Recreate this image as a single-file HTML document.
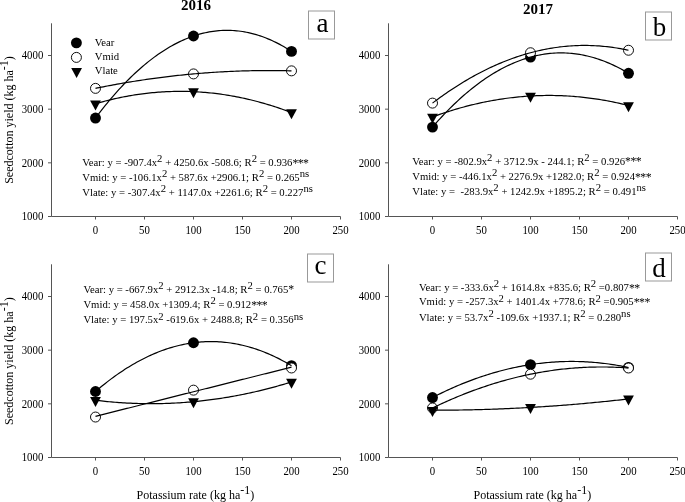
<!DOCTYPE html>
<html><head><meta charset="utf-8"><style>
html,body{margin:0;padding:0;background:#fff;width:685px;height:502px;overflow:hidden}
svg{display:block;filter:grayscale(1)}
text{font-family:"Liberation Serif",serif;fill:#000}
.t{font-size:10.8px}
.e{font-size:10.7px}
.g{font-size:10.7px}
.st{font-size:11.8px;letter-spacing:-0.55px}
.A{font-size:12px}
.T{font-size:15px;font-weight:bold}
.L{font-size:27px}
</style></head><body>
<svg width="685" height="502" viewBox="0 0 685 502">
<rect width="685" height="502" fill="#fff"/>
<path d="M51.5 23.3V216.5H340.5" fill="none" stroke="#555" stroke-width="1"/>
<path d="M48 216.5H51.5M48 162.83H51.5M48 109.17H51.5M48 55.5H51.5M95.5 216.5V219.5M144.5 216.5V219.5M193.5 216.5V219.5M242.5 216.5V219.5M291.5 216.5V219.5M340.5 216.5V219.5" fill="none" stroke="#555" stroke-width="1"/>
<text transform="translate(43.3,220.2) scale(1,1.13)" text-anchor="end" class="t">1000</text>
<text transform="translate(43.3,166.53) scale(1,1.13)" text-anchor="end" class="t">2000</text>
<text transform="translate(43.3,112.87) scale(1,1.13)" text-anchor="end" class="t">3000</text>
<text transform="translate(43.3,59.2) scale(1,1.13)" text-anchor="end" class="t">4000</text>
<text transform="translate(95.5,234.2) scale(1,1.13)" text-anchor="middle" class="t">0</text>
<text transform="translate(144.5,234.2) scale(1,1.13)" text-anchor="middle" class="t">50</text>
<text transform="translate(193.5,234.2) scale(1,1.13)" text-anchor="middle" class="t">100</text>
<text transform="translate(242.5,234.2) scale(1,1.13)" text-anchor="middle" class="t">150</text>
<text transform="translate(291.5,234.2) scale(1,1.13)" text-anchor="middle" class="t">200</text>
<text transform="translate(340.5,234.2) scale(1,1.13)" text-anchor="middle" class="t">250</text>
<circle cx="95.5" cy="118.04" r="5.45" fill="#000"/>
<circle cx="193.5" cy="36.02" r="5.45" fill="#000"/>
<circle cx="291.5" cy="51.39" r="5.45" fill="#000"/>
<circle cx="95.5" cy="88.37" r="5.0" fill="#fff" stroke="#000" stroke-width="0.95"/>
<circle cx="193.5" cy="73.91" r="5.0" fill="#fff" stroke="#000" stroke-width="0.95"/>
<circle cx="291.5" cy="70.85" r="5.0" fill="#fff" stroke="#000" stroke-width="0.95"/>
<path d="M90.1 100.4H100.9L95.5 110.4Z" fill="#000"/>
<path d="M188.1 88.34H198.9L193.5 98.34Z" fill="#000"/>
<path d="M286.1 109.27H296.9L291.5 119.27Z" fill="#000"/>
<polyline points="95.5,118.04 97.46,115.45 99.42,112.89 101.38,110.38 103.34,107.9 105.3,105.46 107.26,103.06 109.22,100.7 111.18,98.37 113.14,96.09 115.1,93.85 117.06,91.64 119.02,89.47 120.98,87.35 122.94,85.26 124.9,83.21 126.86,81.2 128.82,79.23 130.78,77.29 132.74,75.4 134.7,73.55 136.66,71.73 138.62,69.95 140.58,68.22 142.54,66.52 144.5,64.86 146.46,63.24 148.42,61.65 150.38,60.11 152.34,58.61 154.3,57.14 156.26,55.72 158.22,54.33 160.18,52.98 162.14,51.67 164.1,50.4 166.06,49.17 168.02,47.98 169.98,46.82 171.94,45.71 173.9,44.63 175.86,43.6 177.82,42.6 179.78,41.64 181.74,40.72 183.7,39.84 185.66,39 187.62,38.19 189.58,37.43 191.54,36.71 193.5,36.02 195.46,35.37 197.42,34.76 199.38,34.19 201.34,33.66 203.3,33.17 205.26,32.72 207.22,32.31 209.18,31.93 211.14,31.6 213.1,31.3 215.06,31.04 217.02,30.83 218.98,30.65 220.94,30.51 222.9,30.4 224.86,30.34 226.82,30.32 228.78,30.33 230.74,30.39 232.7,30.48 234.66,30.61 236.62,30.78 238.58,30.99 240.54,31.24 242.5,31.53 244.46,31.86 246.42,32.22 248.38,32.63 250.34,33.07 252.3,33.55 254.26,34.08 256.22,34.64 258.18,35.24 260.14,35.87 262.1,36.55 264.06,37.27 266.02,38.02 267.98,38.82 269.94,39.65 271.9,40.52 273.86,41.43 275.82,42.39 277.78,43.37 279.74,44.4 281.7,45.47 283.66,46.58 285.62,47.72 287.58,48.9 289.54,50.13 291.5,51.39" fill="none" stroke="#000" stroke-width="1.2"/>
<polyline points="95.5,88.37 97.46,87.96 99.42,87.57 101.38,87.18 103.34,86.79 105.3,86.41 107.26,86.03 109.22,85.66 111.18,85.29 113.14,84.92 115.1,84.56 117.06,84.21 119.02,83.86 120.98,83.51 122.94,83.17 124.9,82.83 126.86,82.5 128.82,82.17 130.78,81.85 132.74,81.53 134.7,81.22 136.66,80.91 138.62,80.6 140.58,80.3 142.54,80.01 144.5,79.72 146.46,79.43 148.42,79.15 150.38,78.87 152.34,78.6 154.3,78.33 156.26,78.06 158.22,77.8 160.18,77.55 162.14,77.3 164.1,77.05 166.06,76.81 168.02,76.58 169.98,76.34 171.94,76.12 173.9,75.89 175.86,75.67 177.82,75.46 179.78,75.25 181.74,75.05 183.7,74.85 185.66,74.65 187.62,74.46 189.58,74.27 191.54,74.09 193.5,73.91 195.46,73.74 197.42,73.57 199.38,73.41 201.34,73.25 203.3,73.09 205.26,72.94 207.22,72.8 209.18,72.66 211.14,72.52 213.1,72.39 215.06,72.26 217.02,72.14 218.98,72.02 220.94,71.91 222.9,71.8 224.86,71.69 226.82,71.59 228.78,71.5 230.74,71.41 232.7,71.32 234.66,71.24 236.62,71.16 238.58,71.09 240.54,71.02 242.5,70.96 244.46,70.9 246.42,70.84 248.38,70.79 250.34,70.75 252.3,70.71 254.26,70.67 256.22,70.64 258.18,70.61 260.14,70.59 262.1,70.57 264.06,70.56 266.02,70.55 267.98,70.55 269.94,70.55 271.9,70.55 273.86,70.56 275.82,70.57 277.78,70.59 279.74,70.62 281.7,70.64 283.66,70.67 285.62,70.71 287.58,70.75 289.54,70.8 291.5,70.85" fill="none" stroke="#000" stroke-width="1.2"/>
<polyline points="95.5,103.74 97.46,103.17 99.42,102.62 101.38,102.08 103.34,101.56 105.3,101.04 107.26,100.55 109.22,100.06 111.18,99.59 113.14,99.13 115.1,98.68 117.06,98.25 119.02,97.83 120.98,97.42 122.94,97.03 124.9,96.65 126.86,96.29 128.82,95.93 130.78,95.59 132.74,95.26 134.7,94.95 136.66,94.65 138.62,94.36 140.58,94.09 142.54,93.83 144.5,93.58 146.46,93.34 148.42,93.12 150.38,92.91 152.34,92.72 154.3,92.54 156.26,92.37 158.22,92.21 160.18,92.07 162.14,91.94 164.1,91.83 166.06,91.72 168.02,91.63 169.98,91.56 171.94,91.49 173.9,91.44 175.86,91.41 177.82,91.38 179.78,91.37 181.74,91.38 183.7,91.39 185.66,91.42 187.62,91.46 189.58,91.52 191.54,91.59 193.5,91.67 195.46,91.77 197.42,91.88 199.38,92 201.34,92.13 203.3,92.28 205.26,92.44 207.22,92.62 209.18,92.8 211.14,93 213.1,93.22 215.06,93.45 217.02,93.69 218.98,93.94 220.94,94.21 222.9,94.49 224.86,94.78 226.82,95.09 228.78,95.41 230.74,95.74 232.7,96.08 234.66,96.44 236.62,96.82 238.58,97.2 240.54,97.6 242.5,98.01 244.46,98.44 246.42,98.88 248.38,99.33 250.34,99.79 252.3,100.27 254.26,100.76 256.22,101.27 258.18,101.78 260.14,102.31 262.1,102.86 264.06,103.42 266.02,103.99 267.98,104.57 269.94,105.17 271.9,105.78 273.86,106.4 275.82,107.04 277.78,107.68 279.74,108.35 281.7,109.02 283.66,109.71 285.62,110.42 287.58,111.13 289.54,111.86 291.5,112.6" fill="none" stroke="#000" stroke-width="1.2"/>
<text transform="translate(82.2,165.8) scale(1,1.06)" class="e">Vear:&#160;y&#160;=&#160;-907.4x<tspan dy="-3.5">2</tspan><tspan dy="3.5">&#160;+&#160;4250.6x&#160;-508.6;&#160;R</tspan><tspan dy="-3.5">2</tspan><tspan dy="3.5">&#160;=&#160;0.936<tspan class="st" dy="0.7">***</tspan></tspan></text>
<text transform="translate(82.2,181) scale(1,1.06)" class="e">Vmid:&#160;y&#160;=&#160;-106.1x<tspan dy="-3.5">2</tspan><tspan dy="3.5">&#160;+&#160;587.6x&#160;+2906.1;&#160;R</tspan><tspan dy="-3.5">2</tspan><tspan dy="3.5">&#160;=&#160;0.265</tspan><tspan dy="-3.5">ns</tspan></text>
<text transform="translate(82.2,195.5) scale(1,1.06)" class="e">Vlate:&#160;y&#160;=&#160;-307.4x<tspan dy="-3.5">2</tspan><tspan dy="3.5">&#160;+&#160;1147.0x&#160;+2261.6;&#160;R</tspan><tspan dy="-3.5">2</tspan><tspan dy="3.5">&#160;=&#160;0.227</tspan><tspan dy="-3.5">ns</tspan></text>
<rect x="308.5" y="11" width="26" height="28" fill="#fff" stroke="#999" stroke-width="1"/>
<text x="322.45" y="31.64" text-anchor="middle" class="L">a</text>
<path d="M388.5 23.3V216.5H677.5" fill="none" stroke="#555" stroke-width="1"/>
<path d="M385 216.5H388.5M385 162.83H388.5M385 109.17H388.5M385 55.5H388.5M432.5 216.5V219.5M481.5 216.5V219.5M530.5 216.5V219.5M579.5 216.5V219.5M628.5 216.5V219.5M677.5 216.5V219.5" fill="none" stroke="#555" stroke-width="1"/>
<text transform="translate(380.3,220.2) scale(1,1.13)" text-anchor="end" class="t">1000</text>
<text transform="translate(380.3,166.53) scale(1,1.13)" text-anchor="end" class="t">2000</text>
<text transform="translate(380.3,112.87) scale(1,1.13)" text-anchor="end" class="t">3000</text>
<text transform="translate(380.3,59.2) scale(1,1.13)" text-anchor="end" class="t">4000</text>
<text transform="translate(432.5,234.2) scale(1,1.13)" text-anchor="middle" class="t">0</text>
<text transform="translate(481.5,234.2) scale(1,1.13)" text-anchor="middle" class="t">50</text>
<text transform="translate(530.5,234.2) scale(1,1.13)" text-anchor="middle" class="t">100</text>
<text transform="translate(579.5,234.2) scale(1,1.13)" text-anchor="middle" class="t">150</text>
<text transform="translate(628.5,234.2) scale(1,1.13)" text-anchor="middle" class="t">200</text>
<text transform="translate(677.5,234.2) scale(1,1.13)" text-anchor="middle" class="t">250</text>
<circle cx="432.5" cy="127.1" r="5.45" fill="#000"/>
<circle cx="530.5" cy="57.1" r="5.45" fill="#000"/>
<circle cx="628.5" cy="73.29" r="5.45" fill="#000"/>
<circle cx="432.5" cy="103.11" r="5.0" fill="#fff" stroke="#000" stroke-width="0.95"/>
<circle cx="530.5" cy="52.74" r="5.0" fill="#fff" stroke="#000" stroke-width="0.95"/>
<circle cx="628.5" cy="50.25" r="5.0" fill="#fff" stroke="#000" stroke-width="0.95"/>
<path d="M427.1 113.66H437.9L432.5 123.66Z" fill="#000"/>
<path d="M525.1 92.66H535.9L530.5 102.66Z" fill="#000"/>
<path d="M623.1 102.14H633.9L628.5 112.14Z" fill="#000"/>
<polyline points="432.5,127.1 434.46,124.85 436.42,122.64 438.38,120.47 440.34,118.33 442.3,116.22 444.26,114.15 446.22,112.11 448.18,110.11 450.14,108.14 452.1,106.2 454.06,104.3 456.02,102.44 457.98,100.61 459.94,98.81 461.9,97.05 463.86,95.32 465.82,93.63 467.78,91.97 469.74,90.35 471.7,88.76 473.66,87.2 475.62,85.68 477.58,84.2 479.54,82.75 481.5,81.33 483.46,79.95 485.42,78.6 487.38,77.28 489.34,76 491.3,74.76 493.26,73.55 495.22,72.37 497.18,71.23 499.14,70.13 501.1,69.05 503.06,68.02 505.02,67.01 506.98,66.04 508.94,65.11 510.9,64.21 512.86,63.34 514.82,62.51 516.78,61.72 518.74,60.95 520.7,60.23 522.66,59.53 524.62,58.87 526.58,58.25 528.54,57.66 530.5,57.1 532.46,56.58 534.42,56.1 536.38,55.65 538.34,55.23 540.3,54.85 542.26,54.5 544.22,54.18 546.18,53.9 548.14,53.66 550.1,53.45 552.06,53.27 554.02,53.13 555.98,53.02 557.94,52.95 559.9,52.91 561.86,52.91 563.82,52.94 565.78,53 567.74,53.1 569.7,53.24 571.66,53.41 573.62,53.61 575.58,53.85 577.54,54.12 579.5,54.43 581.46,54.77 583.42,55.14 585.38,55.55 587.34,56 589.3,56.47 591.26,56.99 593.22,57.54 595.18,58.12 597.14,58.73 599.1,59.39 601.06,60.07 603.02,60.79 604.98,61.55 606.94,62.34 608.9,63.16 610.86,64.02 612.82,64.91 614.78,65.84 616.74,66.8 618.7,67.79 620.66,68.82 622.62,69.89 624.58,70.99 626.54,72.12 628.5,73.29" fill="none" stroke="#000" stroke-width="1.2"/>
<polyline points="432.5,103.11 434.46,101.64 436.42,100.18 438.38,98.74 440.34,97.32 442.3,95.92 444.26,94.54 446.22,93.18 448.18,91.84 450.14,90.51 452.1,89.21 454.06,87.92 456.02,86.66 457.98,85.41 459.94,84.18 461.9,82.97 463.86,81.78 465.82,80.61 467.78,79.46 469.74,78.33 471.7,77.22 473.66,76.13 475.62,75.05 477.58,74 479.54,72.96 481.5,71.94 483.46,70.94 485.42,69.97 487.38,69.01 489.34,68.07 491.3,67.14 493.26,66.24 495.22,65.36 497.18,64.5 499.14,63.65 501.1,62.83 503.06,62.02 505.02,61.23 506.98,60.46 508.94,59.72 510.9,58.99 512.86,58.27 514.82,57.58 516.78,56.91 518.74,56.26 520.7,55.62 522.66,55.01 524.62,54.41 526.58,53.84 528.54,53.28 530.5,52.74 532.46,52.22 534.42,51.72 536.38,51.24 538.34,50.78 540.3,50.34 542.26,49.91 544.22,49.51 546.18,49.13 548.14,48.76 550.1,48.41 552.06,48.09 554.02,47.78 555.98,47.49 557.94,47.22 559.9,46.97 561.86,46.74 563.82,46.52 565.78,46.33 567.74,46.15 569.7,46 571.66,45.86 573.62,45.75 575.58,45.65 577.54,45.57 579.5,45.51 581.46,45.47 583.42,45.45 585.38,45.45 587.34,45.47 589.3,45.5 591.26,45.56 593.22,45.63 595.18,45.73 597.14,45.84 599.1,45.97 601.06,46.12 603.02,46.29 604.98,46.48 606.94,46.69 608.9,46.92 610.86,47.17 612.82,47.43 614.78,47.72 616.74,48.02 618.7,48.35 620.66,48.69 622.62,49.05 624.58,49.43 626.54,49.83 628.5,50.25" fill="none" stroke="#000" stroke-width="1.2"/>
<polyline points="432.5,116.99 434.46,116.27 436.42,115.57 438.38,114.87 440.34,114.19 442.3,113.52 444.26,112.86 446.22,112.22 448.18,111.58 450.14,110.96 452.1,110.35 454.06,109.76 456.02,109.17 457.98,108.6 459.94,108.04 461.9,107.49 463.86,106.96 465.82,106.43 467.78,105.92 469.74,105.42 471.7,104.94 473.66,104.46 475.62,104 477.58,103.55 479.54,103.11 481.5,102.69 483.46,102.27 485.42,101.87 487.38,101.48 489.34,101.1 491.3,100.74 493.26,100.39 495.22,100.04 497.18,99.72 499.14,99.4 501.1,99.1 503.06,98.8 505.02,98.52 506.98,98.26 508.94,98 510.9,97.76 512.86,97.53 514.82,97.31 516.78,97.1 518.74,96.91 520.7,96.73 522.66,96.56 524.62,96.4 526.58,96.25 528.54,96.12 530.5,96 532.46,95.89 534.42,95.79 536.38,95.71 538.34,95.63 540.3,95.57 542.26,95.53 544.22,95.49 546.18,95.47 548.14,95.45 550.1,95.45 552.06,95.47 554.02,95.49 555.98,95.53 557.94,95.58 559.9,95.64 561.86,95.71 563.82,95.8 565.78,95.9 567.74,96.01 569.7,96.13 571.66,96.27 573.62,96.41 575.58,96.57 577.54,96.74 579.5,96.93 581.46,97.12 583.42,97.33 585.38,97.55 587.34,97.78 589.3,98.03 591.26,98.28 593.22,98.55 595.18,98.83 597.14,99.13 599.1,99.43 601.06,99.75 603.02,100.08 604.98,100.42 606.94,100.77 608.9,101.14 610.86,101.52 612.82,101.91 614.78,102.31 616.74,102.73 618.7,103.16 620.66,103.59 622.62,104.05 624.58,104.51 626.54,104.99 628.5,105.47" fill="none" stroke="#000" stroke-width="1.2"/>
<text transform="translate(412.2,164.6) scale(1,1.06)" class="e">Vear:&#160;y&#160;=&#160;-802.9x<tspan dy="-3.5">2</tspan><tspan dy="3.5">&#160;+&#160;3712.9x&#160;-&#160;244.1;&#160;R</tspan><tspan dy="-3.5">2</tspan><tspan dy="3.5">&#160;=&#160;0.926<tspan class="st" dy="0.7">***</tspan></tspan></text>
<text transform="translate(412.2,179.9) scale(1,1.06)" class="e">Vmid:&#160;y&#160;=&#160;-446.1x<tspan dy="-3.5">2</tspan><tspan dy="3.5">&#160;+&#160;2276.9x&#160;+1282.0;&#160;R</tspan><tspan dy="-3.5">2</tspan><tspan dy="3.5">&#160;=&#160;0.924<tspan class="st" dy="0.7">***</tspan></tspan></text>
<text transform="translate(412.2,194.5) scale(1,1.06)" class="e">Vlate:&#160;y&#160;=&#160;&#160;-283.9x<tspan dy="-3.5">2</tspan><tspan dy="3.5">&#160;+&#160;1242.9x&#160;+1895.2;&#160;R</tspan><tspan dy="-3.5">2</tspan><tspan dy="3.5">&#160;=&#160;0.491</tspan><tspan dy="-3.5">ns</tspan></text>
<rect x="645.5" y="12" width="26" height="28" fill="#fff" stroke="#999" stroke-width="1"/>
<text x="659.5" y="36.2" text-anchor="middle" class="L">b</text>
<path d="M51.5 264.3V457.5H340.5" fill="none" stroke="#555" stroke-width="1"/>
<path d="M48 457.5H51.5M48 403.83H51.5M48 350.17H51.5M48 296.5H51.5M95.5 457.5V460.5M144.5 457.5V460.5M193.5 457.5V460.5M242.5 457.5V460.5M291.5 457.5V460.5M340.5 457.5V460.5" fill="none" stroke="#555" stroke-width="1"/>
<text transform="translate(43.3,461.2) scale(1,1.13)" text-anchor="end" class="t">1000</text>
<text transform="translate(43.3,407.53) scale(1,1.13)" text-anchor="end" class="t">2000</text>
<text transform="translate(43.3,353.87) scale(1,1.13)" text-anchor="end" class="t">3000</text>
<text transform="translate(43.3,300.2) scale(1,1.13)" text-anchor="end" class="t">4000</text>
<text transform="translate(95.5,475.2) scale(1,1.13)" text-anchor="middle" class="t">0</text>
<text transform="translate(144.5,475.2) scale(1,1.13)" text-anchor="middle" class="t">50</text>
<text transform="translate(193.5,475.2) scale(1,1.13)" text-anchor="middle" class="t">100</text>
<text transform="translate(242.5,475.2) scale(1,1.13)" text-anchor="middle" class="t">150</text>
<text transform="translate(291.5,475.2) scale(1,1.13)" text-anchor="middle" class="t">200</text>
<text transform="translate(340.5,475.2) scale(1,1.13)" text-anchor="middle" class="t">250</text>
<circle cx="95.5" cy="391.51" r="5.45" fill="#000"/>
<circle cx="193.5" cy="342.75" r="5.45" fill="#000"/>
<circle cx="291.5" cy="365.68" r="5.45" fill="#000"/>
<circle cx="95.5" cy="417.04" r="5.0" fill="#fff" stroke="#000" stroke-width="0.95"/>
<circle cx="193.5" cy="390.15" r="5.0" fill="#fff" stroke="#000" stroke-width="0.95"/>
<circle cx="291.5" cy="367.98" r="5.0" fill="#fff" stroke="#000" stroke-width="0.95"/>
<path d="M90.1 396.92H100.9L95.5 406.92Z" fill="#000"/>
<path d="M188.1 398.37H198.9L193.5 408.37Z" fill="#000"/>
<path d="M286.1 378.63H296.9L291.5 388.63Z" fill="#000"/>
<polyline points="95.5,391.51 97.46,389.83 99.42,388.18 101.38,386.56 103.34,384.97 105.3,383.41 107.26,381.87 109.22,380.37 111.18,378.89 113.14,377.44 115.1,376.02 117.06,374.63 119.02,373.27 120.98,371.94 122.94,370.63 124.9,369.36 126.86,368.11 128.82,366.89 130.78,365.7 132.74,364.54 134.7,363.4 136.66,362.3 138.62,361.22 140.58,360.18 142.54,359.16 144.5,358.17 146.46,357.21 148.42,356.28 150.38,355.37 152.34,354.5 154.3,353.65 156.26,352.83 158.22,352.05 160.18,351.29 162.14,350.55 164.1,349.85 166.06,349.18 168.02,348.53 169.98,347.91 171.94,347.33 173.9,346.77 175.86,346.24 177.82,345.73 179.78,345.26 181.74,344.82 183.7,344.4 185.66,344.01 187.62,343.65 189.58,343.32 191.54,343.02 193.5,342.75 195.46,342.51 197.42,342.29 199.38,342.1 201.34,341.95 203.3,341.82 205.26,341.72 207.22,341.64 209.18,341.6 211.14,341.59 213.1,341.6 215.06,341.64 217.02,341.71 218.98,341.81 220.94,341.94 222.9,342.1 224.86,342.29 226.82,342.5 228.78,342.74 230.74,343.02 232.7,343.32 234.66,343.65 236.62,344.01 238.58,344.39 240.54,344.81 242.5,345.25 244.46,345.73 246.42,346.23 248.38,346.76 250.34,347.32 252.3,347.9 254.26,348.52 256.22,349.16 258.18,349.84 260.14,350.54 262.1,351.27 264.06,352.03 266.02,352.82 267.98,353.64 269.94,354.48 271.9,355.36 273.86,356.26 275.82,357.19 277.78,358.15 279.74,359.14 281.7,360.16 283.66,361.2 285.62,362.28 287.58,363.38 289.54,364.52 291.5,365.68" fill="none" stroke="#000" stroke-width="1.2"/>
<polyline points="95.5,416.32 97.46,415.82 99.42,415.33 101.38,414.84 103.34,414.35 105.3,413.86 107.26,413.37 109.22,412.88 111.18,412.38 113.14,411.89 115.1,411.4 117.06,410.91 119.02,410.42 120.98,409.93 122.94,409.43 124.9,408.94 126.86,408.45 128.82,407.96 130.78,407.47 132.74,406.98 134.7,406.48 136.66,405.99 138.62,405.5 140.58,405.01 142.54,404.52 144.5,404.03 146.46,403.53 148.42,403.04 150.38,402.55 152.34,402.06 154.3,401.57 156.26,401.08 158.22,400.59 160.18,400.09 162.14,399.6 164.1,399.11 166.06,398.62 168.02,398.13 169.98,397.64 171.94,397.14 173.9,396.65 175.86,396.16 177.82,395.67 179.78,395.18 181.74,394.69 183.7,394.19 185.66,393.7 187.62,393.21 189.58,392.72 191.54,392.23 193.5,391.74 195.46,391.25 197.42,390.75 199.38,390.26 201.34,389.77 203.3,389.28 205.26,388.79 207.22,388.3 209.18,387.8 211.14,387.31 213.1,386.82 215.06,386.33 217.02,385.84 218.98,385.35 220.94,384.85 222.9,384.36 224.86,383.87 226.82,383.38 228.78,382.89 230.74,382.4 232.7,381.91 234.66,381.41 236.62,380.92 238.58,380.43 240.54,379.94 242.5,379.45 244.46,378.96 246.42,378.46 248.38,377.97 250.34,377.48 252.3,376.99 254.26,376.5 256.22,376.01 258.18,375.51 260.14,375.02 262.1,374.53 264.06,374.04 266.02,373.55 267.98,373.06 269.94,372.56 271.9,372.07 273.86,371.58 275.82,371.09 277.78,370.6 279.74,370.11 281.7,369.62 283.66,369.12 285.62,368.63 287.58,368.14 289.54,367.65 291.5,367.16" fill="none" stroke="#000" stroke-width="1.2"/>
<polyline points="95.5,400.25 97.46,400.49 99.42,400.72 101.38,400.94 103.34,401.15 105.3,401.35 107.26,401.55 109.22,401.73 111.18,401.91 113.14,402.08 115.1,402.24 117.06,402.39 119.02,402.54 120.98,402.67 122.94,402.8 124.9,402.92 126.86,403.03 128.82,403.13 130.78,403.22 132.74,403.3 134.7,403.38 136.66,403.45 138.62,403.51 140.58,403.56 142.54,403.6 144.5,403.63 146.46,403.66 148.42,403.67 150.38,403.68 152.34,403.68 154.3,403.67 156.26,403.65 158.22,403.63 160.18,403.59 162.14,403.55 164.1,403.5 166.06,403.44 168.02,403.37 169.98,403.29 171.94,403.21 173.9,403.11 175.86,403.01 177.82,402.9 179.78,402.78 181.74,402.65 183.7,402.52 185.66,402.37 187.62,402.22 189.58,402.06 191.54,401.89 193.5,401.71 195.46,401.52 197.42,401.33 199.38,401.12 201.34,400.91 203.3,400.69 205.26,400.46 207.22,400.22 209.18,399.97 211.14,399.72 213.1,399.46 215.06,399.18 217.02,398.9 218.98,398.61 220.94,398.32 222.9,398.01 224.86,397.7 226.82,397.37 228.78,397.04 230.74,396.7 232.7,396.35 234.66,396 236.62,395.63 238.58,395.26 240.54,394.88 242.5,394.49 244.46,394.09 246.42,393.68 248.38,393.26 250.34,392.84 252.3,392.41 254.26,391.96 256.22,391.51 258.18,391.06 260.14,390.59 262.1,390.11 264.06,389.63 266.02,389.14 267.98,388.64 269.94,388.13 271.9,387.61 273.86,387.08 275.82,386.55 277.78,386 279.74,385.45 281.7,384.89 283.66,384.32 285.62,383.75 287.58,383.16 289.54,382.57 291.5,381.96" fill="none" stroke="#000" stroke-width="1.2"/>
<text transform="translate(83.4,292.7) scale(1,1.06)" class="e">Vear:&#160;y&#160;=&#160;-667.9x<tspan dy="-3.5">2</tspan><tspan dy="3.5">&#160;+&#160;2912.3x&#160;-14.8;&#160;R</tspan><tspan dy="-3.5">2</tspan><tspan dy="3.5">&#160;=&#160;0.765<tspan class="st" dy="0.7">*</tspan></tspan></text>
<text transform="translate(83.4,307.9) scale(1,1.06)" class="e">Vmid:&#160;y&#160;=&#160;458.0x&#160;+1309.4;&#160;R<tspan dy="-3.5">2</tspan><tspan dy="3.5">&#160;=&#160;0.912<tspan class="st" dy="0.7">***</tspan></tspan></text>
<text transform="translate(83.4,323.4) scale(1,1.06)" class="e">Vlate:&#160;y&#160;=&#160;197.5x<tspan dy="-3.5">2</tspan><tspan dy="3.5">&#160;-619.6x&#160;+&#160;2488.8;&#160;R</tspan><tspan dy="-3.5">2</tspan><tspan dy="3.5">&#160;=&#160;0.356</tspan><tspan dy="-3.5">ns</tspan></text>
<rect x="307.5" y="254" width="26" height="28" fill="#fff" stroke="#999" stroke-width="1"/>
<text x="320.5" y="274" text-anchor="middle" class="L">c</text>
<path d="M388.5 264.3V457.5H677.5" fill="none" stroke="#555" stroke-width="1"/>
<path d="M385 457.5H388.5M385 403.83H388.5M385 350.17H388.5M385 296.5H388.5M432.5 457.5V460.5M481.5 457.5V460.5M530.5 457.5V460.5M579.5 457.5V460.5M628.5 457.5V460.5M677.5 457.5V460.5" fill="none" stroke="#555" stroke-width="1"/>
<text transform="translate(380.3,461.2) scale(1,1.13)" text-anchor="end" class="t">1000</text>
<text transform="translate(380.3,407.53) scale(1,1.13)" text-anchor="end" class="t">2000</text>
<text transform="translate(380.3,353.87) scale(1,1.13)" text-anchor="end" class="t">3000</text>
<text transform="translate(380.3,300.2) scale(1,1.13)" text-anchor="end" class="t">4000</text>
<text transform="translate(432.5,475.2) scale(1,1.13)" text-anchor="middle" class="t">0</text>
<text transform="translate(481.5,475.2) scale(1,1.13)" text-anchor="middle" class="t">50</text>
<text transform="translate(530.5,475.2) scale(1,1.13)" text-anchor="middle" class="t">100</text>
<text transform="translate(579.5,475.2) scale(1,1.13)" text-anchor="middle" class="t">150</text>
<text transform="translate(628.5,475.2) scale(1,1.13)" text-anchor="middle" class="t">200</text>
<text transform="translate(677.5,475.2) scale(1,1.13)" text-anchor="middle" class="t">250</text>
<circle cx="432.5" cy="397.57" r="5.45" fill="#000"/>
<circle cx="530.5" cy="364.61" r="5.45" fill="#000"/>
<circle cx="628.5" cy="367.47" r="5.45" fill="#000"/>
<circle cx="432.5" cy="407.98" r="5.0" fill="#fff" stroke="#000" stroke-width="0.95"/>
<circle cx="530.5" cy="374.2" r="5.0" fill="#fff" stroke="#000" stroke-width="0.95"/>
<circle cx="628.5" cy="368.03" r="5.0" fill="#fff" stroke="#000" stroke-width="0.95"/>
<path d="M427.1 406.88H437.9L432.5 416.88Z" fill="#000"/>
<path d="M525.1 404.11H535.9L530.5 414.11Z" fill="#000"/>
<path d="M623.1 395.58H633.9L628.5 405.58Z" fill="#000"/>
<polyline points="432.5,397.57 434.46,396.56 436.42,395.56 438.38,394.58 440.34,393.61 442.3,392.66 444.26,391.72 446.22,390.8 448.18,389.89 450.14,388.99 452.1,388.11 454.06,387.24 456.02,386.39 457.98,385.55 459.94,384.73 461.9,383.92 463.86,383.12 465.82,382.34 467.78,381.58 469.74,380.83 471.7,380.09 473.66,379.36 475.62,378.66 477.58,377.96 479.54,377.28 481.5,376.61 483.46,375.96 485.42,375.32 487.38,374.7 489.34,374.09 491.3,373.5 493.26,372.92 495.22,372.35 497.18,371.8 499.14,371.26 501.1,370.74 503.06,370.23 505.02,369.74 506.98,369.26 508.94,368.79 510.9,368.34 512.86,367.9 514.82,367.48 516.78,367.07 518.74,366.68 520.7,366.3 522.66,365.93 524.62,365.58 526.58,365.24 528.54,364.92 530.5,364.61 532.46,364.32 534.42,364.04 536.38,363.78 538.34,363.52 540.3,363.29 542.26,363.07 544.22,362.86 546.18,362.66 548.14,362.49 550.1,362.32 552.06,362.17 554.02,362.03 555.98,361.91 557.94,361.8 559.9,361.71 561.86,361.63 563.82,361.57 565.78,361.52 567.74,361.48 569.7,361.46 571.66,361.45 573.62,361.46 575.58,361.48 577.54,361.52 579.5,361.57 581.46,361.63 583.42,361.71 585.38,361.8 587.34,361.91 589.3,362.03 591.26,362.17 593.22,362.32 595.18,362.48 597.14,362.66 599.1,362.85 601.06,363.06 603.02,363.28 604.98,363.52 606.94,363.77 608.9,364.03 610.86,364.31 612.82,364.61 614.78,364.91 616.74,365.24 618.7,365.57 620.66,365.92 622.62,366.29 624.58,366.67 626.54,367.06 628.5,367.47" fill="none" stroke="#000" stroke-width="1.2"/>
<polyline points="432.5,407.98 434.46,407.04 436.42,406.1 438.38,405.18 440.34,404.26 442.3,403.36 444.26,402.47 446.22,401.59 448.18,400.72 450.14,399.86 452.1,399.02 454.06,398.18 456.02,397.36 457.98,396.54 459.94,395.74 461.9,394.95 463.86,394.17 465.82,393.4 467.78,392.64 469.74,391.89 471.7,391.15 473.66,390.43 475.62,389.71 477.58,389.01 479.54,388.32 481.5,387.64 483.46,386.97 485.42,386.31 487.38,385.66 489.34,385.02 491.3,384.4 493.26,383.78 495.22,383.18 497.18,382.59 499.14,382 501.1,381.43 503.06,380.87 505.02,380.33 506.98,379.79 508.94,379.26 510.9,378.75 512.86,378.24 514.82,377.75 516.78,377.27 518.74,376.79 520.7,376.33 522.66,375.88 524.62,375.45 526.58,375.02 528.54,374.6 530.5,374.2 532.46,373.8 534.42,373.42 536.38,373.05 538.34,372.69 540.3,372.34 542.26,372 544.22,371.67 546.18,371.36 548.14,371.05 550.1,370.76 552.06,370.47 554.02,370.2 555.98,369.94 557.94,369.69 559.9,369.45 561.86,369.22 563.82,369 565.78,368.8 567.74,368.6 569.7,368.42 571.66,368.25 573.62,368.08 575.58,367.93 577.54,367.79 579.5,367.66 581.46,367.55 583.42,367.44 585.38,367.34 587.34,367.26 589.3,367.18 591.26,367.12 593.22,367.07 595.18,367.03 597.14,367 599.1,366.98 601.06,366.98 603.02,366.98 604.98,366.99 606.94,367.02 608.9,367.06 610.86,367.1 612.82,367.16 614.78,367.23 616.74,367.31 618.7,367.41 620.66,367.51 622.62,367.62 624.58,367.75 626.54,367.88 628.5,368.03" fill="none" stroke="#000" stroke-width="1.2"/>
<polyline points="432.5,410.21 434.46,410.21 436.42,410.21 438.38,410.21 440.34,410.2 442.3,410.19 444.26,410.18 446.22,410.17 448.18,410.15 450.14,410.14 452.1,410.12 454.06,410.1 456.02,410.07 457.98,410.04 459.94,410.02 461.9,409.98 463.86,409.95 465.82,409.92 467.78,409.88 469.74,409.84 471.7,409.8 473.66,409.75 475.62,409.7 477.58,409.65 479.54,409.6 481.5,409.55 483.46,409.49 485.42,409.43 487.38,409.37 489.34,409.31 491.3,409.24 493.26,409.17 495.22,409.1 497.18,409.03 499.14,408.96 501.1,408.88 503.06,408.8 505.02,408.72 506.98,408.63 508.94,408.55 510.9,408.46 512.86,408.37 514.82,408.27 516.78,408.18 518.74,408.08 520.7,407.98 522.66,407.88 524.62,407.77 526.58,407.67 528.54,407.56 530.5,407.45 532.46,407.33 534.42,407.21 536.38,407.1 538.34,406.97 540.3,406.85 542.26,406.73 544.22,406.6 546.18,406.47 548.14,406.34 550.1,406.2 552.06,406.06 554.02,405.92 555.98,405.78 557.94,405.64 559.9,405.49 561.86,405.34 563.82,405.19 565.78,405.04 567.74,404.88 569.7,404.73 571.66,404.57 573.62,404.4 575.58,404.24 577.54,404.07 579.5,403.9 581.46,403.73 583.42,403.56 585.38,403.38 587.34,403.2 589.3,403.02 591.26,402.84 593.22,402.65 595.18,402.46 597.14,402.27 599.1,402.08 601.06,401.89 603.02,401.69 604.98,401.49 606.94,401.29 608.9,401.08 610.86,400.88 612.82,400.67 614.78,400.46 616.74,400.25 618.7,400.03 620.66,399.81 622.62,399.59 624.58,399.37 626.54,399.14 628.5,398.92" fill="none" stroke="#000" stroke-width="1.2"/>
<text transform="translate(418.9,291) scale(1,1.06)" class="e">Vear:&#160;y&#160;=&#160;-333.6x<tspan dy="-3.5">2</tspan><tspan dy="3.5">&#160;+&#160;1614.8x&#160;+835.6;&#160;R</tspan><tspan dy="-3.5">2</tspan><tspan dy="3.5">&#160;=0.807<tspan class="st" dy="0.7">**</tspan></tspan></text>
<text transform="translate(418.9,305.4) scale(1,1.06)" class="e">Vmid:&#160;y&#160;=&#160;-257.3x<tspan dy="-3.5">2</tspan><tspan dy="3.5">&#160;+&#160;1401.4x&#160;+778.6;&#160;R</tspan><tspan dy="-3.5">2</tspan><tspan dy="3.5">&#160;=0.905<tspan class="st" dy="0.7">***</tspan></tspan></text>
<text transform="translate(418.9,320.7) scale(1,1.06)" class="e">Vlate:&#160;y&#160;=&#160;53.7x<tspan dy="-3.5">2</tspan><tspan dy="3.5">&#160;-109.6x&#160;+1937.1;&#160;R</tspan><tspan dy="-3.5">2</tspan><tspan dy="3.5">&#160;=&#160;0.280</tspan><tspan dy="-3.5">ns</tspan></text>
<rect x="645.5" y="253" width="26" height="28" fill="#fff" stroke="#999" stroke-width="1"/>
<text x="659.1" y="276.7" text-anchor="middle" class="L">d</text>
<circle cx="76.4" cy="42.85" r="5.45" fill="#000"/>
<circle cx="76.4" cy="57.4" r="5.0" fill="#fff" stroke="#000" stroke-width="0.95"/>
<path d="M71.2 67.97H82L76.6 77.97Z" fill="#000"/>
<text transform="translate(94.7,46.0) scale(1,1.05)" class="g">Vear</text>
<text transform="translate(94.7,60.1) scale(1,1.05)" class="g">Vmid</text>
<text transform="translate(94.7,74.2) scale(1,1.05)" class="g">Vlate</text>
<text x="196" y="9.9" text-anchor="middle" class="T">2016</text>
<text x="538" y="13.8" text-anchor="middle" class="T">2017</text>
<text transform="translate(13.2,183.8) rotate(-90)" class="A">Seedcotton yield (kg ha<tspan dy="-5.2">-1</tspan><tspan dy="5.2">)</tspan></text>
<text transform="translate(13.2,425) rotate(-90)" class="A">Seedcotton yield (kg ha<tspan dy="-5.2">-1</tspan><tspan dy="5.2">)</tspan></text>
<text x="136.6" y="499.2" class="A">Potassium rate (kg ha<tspan dy="-5.2">-1</tspan><tspan dy="5.2">)</tspan></text>
<text x="473.5" y="499.2" class="A">Potassium rate (kg ha<tspan dy="-5.2">-1</tspan><tspan dy="5.2">)</tspan></text>
</svg>
</body></html>
